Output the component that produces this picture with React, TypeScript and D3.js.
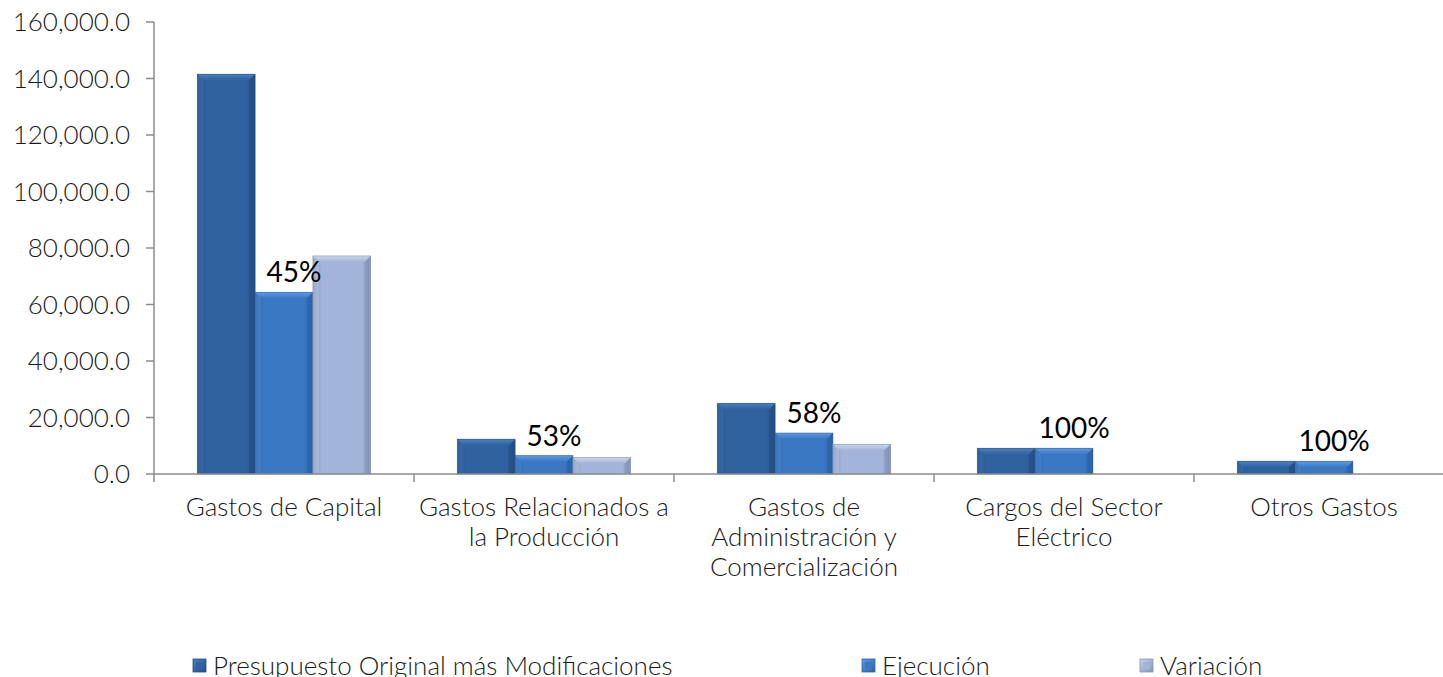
import React from "react";
import * as d3 from "d3";

const categories = [
  "Gastos de Capital",
  "Gastos Relacionados a la Producción",
  "Gastos de Administración y Comercialización",
  "Cargos del Sector Eléctrico",
  "Otros Gastos",
];
const categoryLines = [
  ["Gastos de Capital"],
  ["Gastos Relacionados a", "la Producción"],
  ["Gastos de", "Administración y", "Comercialización"],
  ["Cargos del Sector", "Eléctrico"],
  ["Otros Gastos"],
];
const seriesNames = ["Presupuesto Original más Modificaciones", "Ejecución", "Variación"];
const presupuesto = [141500, 12300, 25000, 9100, 4500];
const ejecucion = [64300, 6500, 14500, 9100, 4500];
const variacion = [77200, 5800, 10500, 0, 0];
const pctLabels = ["45%", "53%", "58%", "100%", "100%"];
const yTicks = [0, 20000, 40000, 60000, 80000, 100000, 120000, 140000, 160000];

const W = 1443;
const H = 677;
const FONT = "Lato, 'Open Sans', sans-serif";
const FS = 26;
const colors = [
  { base: "#2F629F", light: "#4A80C4", dark: "#244E82" },
  { base: "#3A78C4", light: "#5D9BE3", dark: "#2C62A6" },
  { base: "#A2B4D9", light: "#C9D6EE", dark: "#8493B8" },
];

export default function App() {
  const left = 154;
  const right = 1454;
  const y = d3.scaleLinear().domain([0, 160000]).range([474, 22]);
  const x0 = d3
    .scaleBand<string>()
    .domain(categories)
    .range([left, right])
    .paddingInner(1 / 3)
    .paddingOuter(1 / 6);
  const x1 = d3.scaleBand<string>().domain(seriesNames).range([0, x0.bandwidth()]);
  const values = [presupuesto, ejecucion, variacion];
  const fmt = d3.format(",.1f");
  const step = x0.step();
  const bevel = 6;

  const bar = (cat: string, ci: number, si: number) => {
    const v = values[si][ci];
    if (!v) return null;
    const bx = (x0(cat) as number) + (x1(seriesNames[si]) as number);
    const bw = x1.bandwidth();
    const top = y(v);
    const bot = y(0);
    const h = bot - top;
    const b = Math.min(bevel, h / 2, bw / 4);
    return (
      <g key={`${ci}-${si}`}>
        <rect x={bx} y={top} width={bw} height={h} fill={`url(#g${si})`} />
        <polygon
          points={`${bx},${top} ${bx + bw},${top} ${bx + bw - b},${top + b} ${bx + b},${top + b}`}
          fill={`url(#t${si})`}
        />
        <polygon
          points={`${bx},${top} ${bx + b},${top + b} ${bx + b},${bot} ${bx},${bot}`}
          fill={colors[si].light}
          opacity={0.35}
        />
        <polygon
          points={`${bx + bw},${top} ${bx + bw - b},${top + b} ${bx + bw - b},${bot} ${bx + bw},${bot}`}
          fill={colors[si].dark}
          opacity={0.6}
        />
        <rect x={bx} y={top} width={bw} height={h} fill="none" stroke={colors[si].dark} strokeWidth={0.8} strokeOpacity={0.7} />
      </g>
    );
  };

  const legendX = [193, 862, 1140];

  return (
    <svg
      width={W}
      height={H}
      style={{ position: "absolute", left: 0, top: 0, background: "#fff" }}
      fontFamily={FONT}
      fontWeight={300}
    >
      <defs>
        {colors.map((c, i) => (
          <React.Fragment key={i}>
            <linearGradient id={`g${i}`} x1="0" y1="0" x2="1" y2="0">
              <stop offset="0" stopColor={c.dark} />
              <stop offset="0.15" stopColor={c.base} />
              <stop offset="0.85" stopColor={c.base} />
              <stop offset="1" stopColor={c.dark} />
            </linearGradient>
            <linearGradient id={`t${i}`} x1="0" y1="0" x2="0" y2="1">
              <stop offset="0" stopColor={c.light} />
              <stop offset="1" stopColor={c.base} />
            </linearGradient>
            <linearGradient id={`l${i}`} x1="0" y1="0" x2="1" y2="1">
              <stop offset="0" stopColor={c.light} />
              <stop offset="1" stopColor={c.dark} />
            </linearGradient>
          </React.Fragment>
        ))}
      </defs>

      {/* Y axis */}
      <line x1={left} x2={left} y1={y(160000)} y2={y(0)} stroke="#8C8C8C" strokeWidth={1.5} />
      {yTicks.map((t) => (
        <g key={t}>
          <line x1={left - 8} x2={left} y1={y(t)} y2={y(t)} stroke="#8C8C8C" strokeWidth={1.5} />
          <text x={130} y={y(t)} dy="0.35em" textAnchor="end" fontSize={FS} fill="#1a1a1a">
            {fmt(t)}
          </text>
        </g>
      ))}

      {/* bars */}
      {categories.map((cat, ci) => [0, 1, 2].map((si) => bar(cat, ci, si)))}

      {/* X axis */}
      <line x1={left} x2={W} y1={y(0)} y2={y(0)} stroke="#8C8C8C" strokeWidth={1.5} />
      {categories.map((cat, ci) => (
        <line
          key={cat}
          x1={left + ci * step}
          x2={left + ci * step}
          y1={y(0)}
          y2={y(0) + 8}
          stroke="#8C8C8C"
          strokeWidth={1.5}
        />
      ))}

      {/* category labels */}
      {categories.map((cat, ci) => (
        <text
          key={cat}
          x={(x0(cat) as number) + x0.bandwidth() / 2}
          y={516}
          textAnchor="middle"
          fontSize={FS}
          fill="#1a1a1a"
        >
          {categoryLines[ci].map((ln, li) => (
            <tspan key={li} x={(x0(cat) as number) + x0.bandwidth() / 2} dy={li === 0 ? 0 : 30}>
              {ln}
            </tspan>
          ))}
        </text>
      ))}

      {/* percentage labels */}
      {categories.map((cat, ci) => (
        <text
          key={cat}
          x={(x0(cat) as number) + (x1(seriesNames[1]) as number) + x1.bandwidth() / 2 + 10}
          y={y(ejecucion[ci]) - 10}
          textAnchor="middle"
          fontSize={28}
          fontWeight={400}
          fill="#000"
        >
          {pctLabels[ci]}
        </text>
      ))}

      {/* legend */}
      {seriesNames.map((s, si) => (
        <g key={s}>
          <rect x={legendX[si]} y={659} width={13} height={13} fill={`url(#l${si})`} stroke={colors[si].dark} strokeWidth={0.8} />
          <rect x={legendX[si] + 3} y={662} width={7} height={7} fill={colors[si].base} />
          <text x={legendX[si] + 20} y={675} fontSize={FS} fill="#1a1a1a">
            {s}
          </text>
        </g>
      ))}
    </svg>
  );
}
